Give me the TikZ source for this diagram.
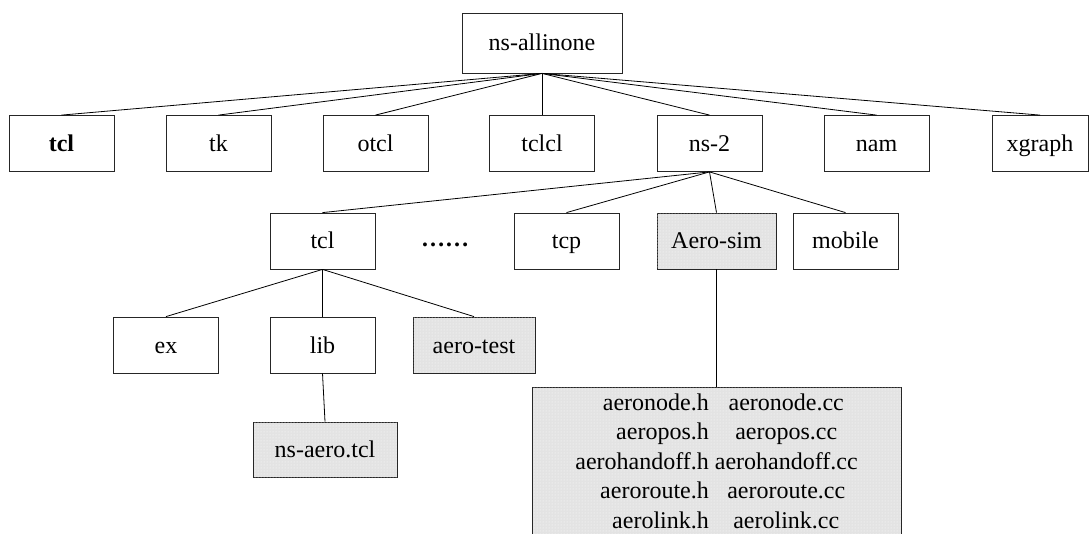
\documentclass[tikz,border=0pt]{standalone}
\usepackage{fontspec}
\setmainfont{Liberation Serif}
\usetikzlibrary{patterns}
\begin{document}
\begin{tikzpicture}[x=1pt,y=-1pt,
  box/.style={draw=black!85, line width=0.8pt, minimum width=105pt, minimum height=56pt,
    inner sep=0pt, text height=20pt, text depth=4pt, font=\fontsize{24}{29.5}\selectfont},
  shaded/.style={fill=black!11, postaction={pattern=dots, pattern color=white}},
  link/.style={line width=0.8pt}]
\useasboundingbox (0,0) rectangle (1091,534);
\clip (0,0) rectangle (1091,534);
% root
\node[box, minimum width=160pt, minimum height=60pt] (root) at (542,43) {ns-allinone};
% row 2
\node[box] (tcl1) at (61.5,143.5) {\textbf{tcl}};
\node[box] (tk) at (218.5,143.5) {tk};
\node[box] (otcl) at (375.5,143.5) {otcl};
\node[box] (tclcl) at (542,143.5) {tclcl};
\node[box] (ns2) at (709.5,143.5) {ns-2};
\node[box] (nam) at (876.5,143.5) {nam};
\node[box, minimum width=96pt] (xgraph) at (1040,143.5) {xgraph};
% row 3
\node[box] (tcl2) at (322.5,241) {tcl};
\node[inner sep=0pt, text height=20pt, text depth=4pt, font=\fontsize{24}{29.5}\selectfont\bfseries] (dots) at (445,239) {……};
\node[box] (tcp) at (566.5,241) {tcp};
\node[box, shaded, minimum width=119pt] (aerosim) at (716.5,241) {Aero-sim};
\node[box] (mobile) at (845.5,241) {mobile};
% row 4
\node[box] (ex) at (166,345) {ex};
\node[box] (lib) at (322.5,345) {lib};
\node[box, shaded, minimum width=122pt] (aerotest) at (474,345) {aero-test};
% row 5
\node[box, shaded, minimum width=144pt, minimum height=55pt] (nsaero) at (325,449.5) {ns-aero.tcl};
\node[box, shaded, text height=, text depth=, minimum width=369pt, minimum height=152pt, anchor=north] (files) at (716.5,387)
  {\begin{tabular}{@{}r@{\hspace{6pt}}c@{}}
   aeronode.h & aeronode.cc\\
   aeropos.h & aeropos.cc\\
   aerohandoff.h & aerohandoff.cc\\
   aeroroute.h & aeroroute.cc\\
   aerolink.h & aerolink.cc
   \end{tabular}};
% connectors
\foreach \c in {tcl1,tk,otcl,tclcl,ns2,nam,xgraph}
  \draw[link] (root.south) -- (\c.north);
\foreach \c in {tcl2,tcp,aerosim,mobile}
  \draw[link] (ns2.south) -- (\c.north);
\foreach \c in {ex,lib,aerotest}
  \draw[link] (tcl2.south) -- (\c.north);
\draw[link] (lib.south) -- (nsaero.north);
\draw[link] (aerosim.south) -- (files.north);
\end{tikzpicture}
\end{document}
